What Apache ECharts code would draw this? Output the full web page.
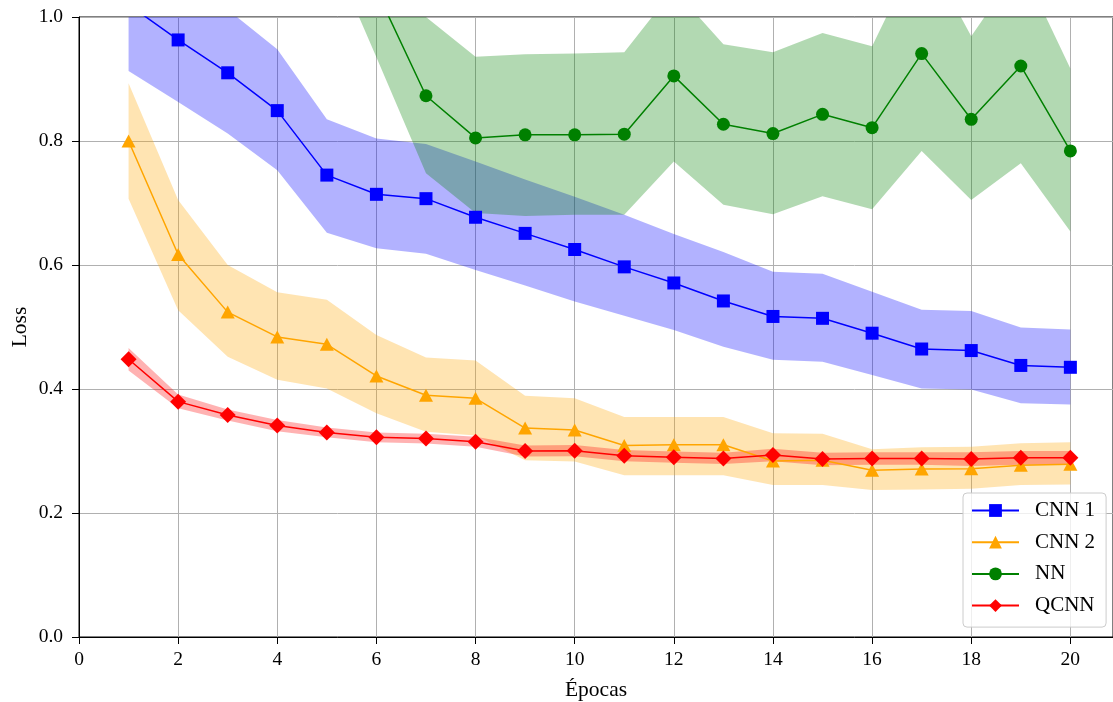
<!DOCTYPE html>
<html>
<head>
<meta charset="utf-8">
<script src="https://cdn.jsdelivr.net/npm/echarts@6/dist/echarts.min.js"></script>
<style>
html,body{margin:0;padding:0;background:#fff;}
#chart{width:1113px;height:702px;}
</style>
</head>
<body>
<div id="chart"></div>
<script>
const epochs = [1,2,3,4,5,6,7,8,9,10,11,12,13,14,15,16,17,18,19,20];
const xTicks = [0,2,4,6,8,10,12,14,16,18,20];

const cnn1      = [1.02, 0.963, 0.910, 0.849, 0.745, 0.714, 0.707, 0.677, 0.651, 0.625, 0.597, 0.571, 0.542, 0.517, 0.514, 0.490, 0.4645, 0.462, 0.438, 0.435];
const cnn1Upper = [1.127, 1.063, 1.012, 0.948, 0.835, 0.804, 0.795, 0.767, 0.738, 0.710, 0.681, 0.650, 0.621, 0.589, 0.586, 0.557, 0.528, 0.526, 0.499, 0.496];
const cnn1Lower = [0.913, 0.863, 0.812, 0.753, 0.652, 0.627, 0.618, 0.592, 0.567, 0.541, 0.518, 0.495, 0.468, 0.447, 0.444, 0.4226, 0.401, 0.399, 0.377, 0.375];

const cnn2      = [0.800, 0.617, 0.524, 0.484, 0.472, 0.421, 0.390, 0.385, 0.337, 0.334, 0.309, 0.310, 0.310, 0.284, 0.285, 0.269, 0.271, 0.2715, 0.277, 0.2785];
const cnn2Upper = [0.893, 0.705, 0.600, 0.556, 0.544, 0.487, 0.451, 0.446, 0.389, 0.385, 0.355, 0.355, 0.355, 0.3285, 0.328, 0.303, 0.306, 0.307, 0.3125, 0.314];
const cnn2Lower = [0.707, 0.527, 0.452, 0.415, 0.401, 0.361, 0.331, 0.325, 0.285, 0.283, 0.261, 0.261, 0.261, 0.245, 0.245, 0.237, 0.238, 0.239, 0.245, 0.246];

const nn      = [1.60, 1.48, 1.38, 1.30, 1.24, 1.043, 0.873, 0.805, 0.810, 0.810, 0.811, 0.905, 0.827, 0.812, 0.843, 0.8215, 0.941, 0.835, 0.921, 0.784];
const nnUpper = [1.75, 1.62, 1.51, 1.42, 1.36, 1.15, 1.000, 0.936, 0.940, 0.941, 0.943, 1.045, 0.956, 0.943, 0.974, 0.953, 1.117, 0.969, 1.085, 0.917];
const nnLower = [1.45, 1.34, 1.25, 1.18, 1.12, 0.935, 0.748, 0.684, 0.679, 0.681, 0.681, 0.767, 0.697, 0.682, 0.711, 0.690, 0.784, 0.705, 0.764, 0.654];

const qcnn      = [0.448, 0.3796, 0.358, 0.341, 0.3297, 0.322, 0.320, 0.315, 0.300, 0.3005, 0.2925, 0.290, 0.288, 0.2935, 0.287, 0.288, 0.288, 0.287, 0.289, 0.289];
const qcnnUpper = [0.466, 0.391, 0.367, 0.350, 0.338, 0.330, 0.328, 0.323, 0.309, 0.3095, 0.3015, 0.299, 0.297, 0.3035, 0.297, 0.298, 0.298, 0.298, 0.300, 0.300];
const qcnnLower = [0.430, 0.369, 0.349, 0.332, 0.322, 0.314, 0.312, 0.307, 0.291, 0.2915, 0.2835, 0.281, 0.279, 0.2835, 0.277, 0.278, 0.278, 0.276, 0.278, 0.278];

const names = ['CNN 1', 'CNN 2', 'NN', 'QCNN'];
const FONT = "'Liberation Serif', 'Times New Roman', 'DejaVu Serif', serif";

function band(name, upper, lower, fill) {
  return {
    type: 'custom',
    name: name + ' band',
    coordinateSystem: 'cartesian2d',
    silent: true,
    clip: true,
    z: 1,
    data: [[epochs[0], lower[0]]],
    encode: {x: 0, y: 1},
    renderItem: function (params, api) {
      const pts = [];
      for (let i = 0; i < epochs.length; i++) pts.push(api.coord([epochs[i], upper[i]]));
      for (let i = epochs.length - 1; i >= 0; i--) pts.push(api.coord([epochs[i], lower[i]]));
      return {type: 'polygon', shape: {points: pts}, style: {fill: fill, stroke: null}};
    }
  };
}

function line(name, vals, color, symbol, size) {
  return {
    type: 'line',
    name: name,
    data: epochs.map((e, i) => [e, vals[i]]),
    symbol: symbol,
    symbolSize: size,
    showAllSymbol: true,
    clip: true,
    z: 2,
    lineStyle: {color: color, width: 1.5},
    itemStyle: {color: color},
    emphasis: {disabled: true}
  };
}

const chart = echarts.init(document.getElementById('chart'), null, {renderer: 'canvas'});
chart.setOption({
  animation: false,
  backgroundColor: '#ffffff',
  grid: {left: 79, top: 17, right: 0, bottom: 65, outerBoundsMode: 'none', containLabel: false,
         show: true, borderColor: '#000', borderWidth: 1, backgroundColor: 'transparent'},
  xAxis: {
    type: 'value', min: 0, max: 20.86, interval: 2,
    name: 'Épocas', nameLocation: 'middle', nameGap: 42,
    nameTextStyle: {fontFamily: FONT, fontSize: 21.5, color: '#000'},
    axisLine: {lineStyle: {color: '#000', width: 1}},
    axisTick: {show: true, length: 7, lineStyle: {color: '#000', width: 1}},
    axisLabel: {fontFamily: FONT, fontSize: 19.5, color: '#000', margin: 13,
      formatter: function (v) { return xTicks.indexOf(v) >= 0 ? String(v) : ''; }},
    splitLine: {show: true, lineStyle: {color: '#b0b0b0', width: 1}}
  },
  yAxis: {
    type: 'value', min: 0, max: 1, interval: 0.2,
    name: 'Loss', nameLocation: 'middle', nameGap: 48, nameRotate: 90, nameMoveOverlap: false,
    nameTextStyle: {fontFamily: FONT, fontSize: 21.5, color: '#000'},
    axisLine: {show: true, lineStyle: {color: '#000', width: 1}},
    axisTick: {show: true, length: 7, lineStyle: {color: '#000', width: 1}},
    axisLabel: {fontFamily: FONT, fontSize: 19.5, color: '#000', margin: 16,
      formatter: function (v) { return v.toFixed(1); }},
    splitLine: {show: true, lineStyle: {color: '#b0b0b0', width: 1}}
  },
  legend: {
    data: names,
    orient: 'vertical',
    left: 963, top: 493,
    itemWidth: 47, itemHeight: 16, itemGap: 10.7,
    padding: [7, 11, 11, 8],
    backgroundColor: 'rgba(255,255,255,0.8)',
    borderColor: '#cccccc', borderWidth: 1, borderRadius: 4,
    textStyle: {fontFamily: FONT, fontSize: 21, color: '#000', lineHeight: 21, padding: [0, 0, 0, 11]},
    selectedMode: false
  },
  series: [
    band('CNN 1', cnn1Upper, cnn1Lower, 'rgba(0,0,255,0.3)'),
    band('CNN 2', cnn2Upper, cnn2Lower, 'rgba(255,165,0,0.3)'),
    band('NN', nnUpper, nnLower, 'rgba(0,128,0,0.3)'),
    band('QCNN', qcnnUpper, qcnnLower, 'rgba(255,0,0,0.3)'),
    line('CNN 1', cnn1, '#0000ff', 'rect', 13),
    line('CNN 2', cnn2, '#ffa500', 'triangle', [14, 13]),
    line('NN', nn, '#008000', 'circle', 13),
    line('QCNN', qcnn, '#ff0000', 'diamond', 16)
  ]
});
</script>
</body>
</html>
